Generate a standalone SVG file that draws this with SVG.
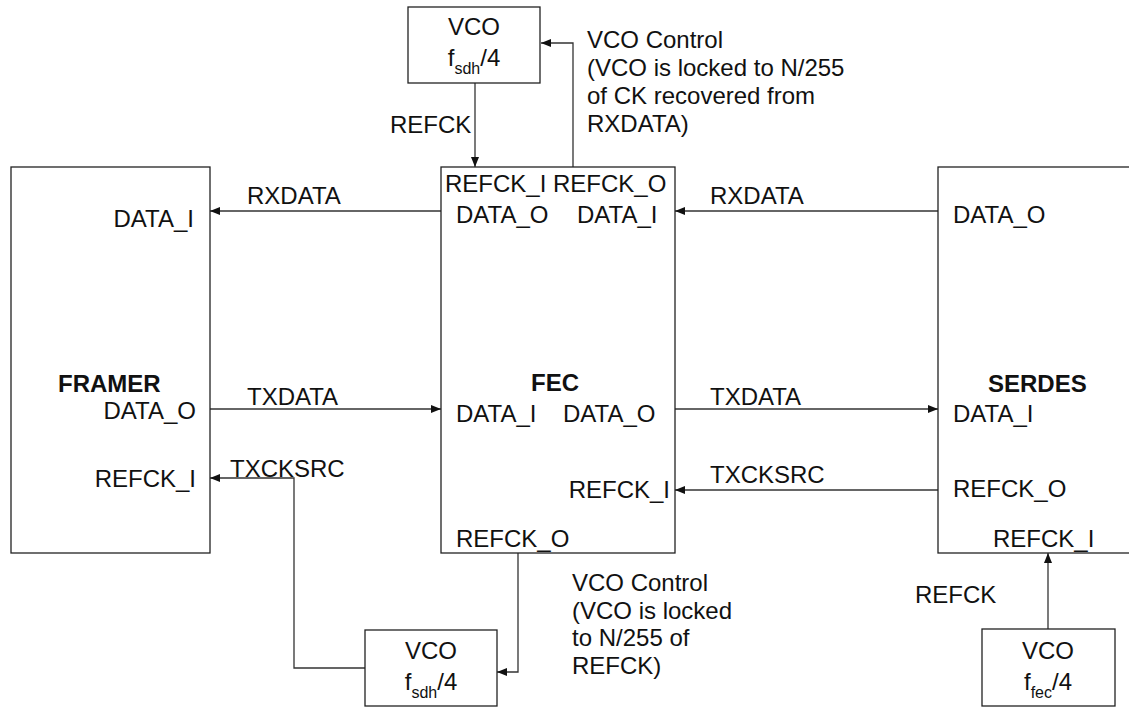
<svg xmlns="http://www.w3.org/2000/svg" width="1129" height="708" viewBox="0 0 1129 708">
<defs>
<style>
text{font-family:"Liberation Sans",Arial,sans-serif;font-size:24px;fill:#111}
.b{font-weight:bold}
.m{text-anchor:middle}
.e{text-anchor:end}
.sub{font-size:16px}
.box{fill:#fff;stroke:#222;stroke-width:1.3}
.c{fill:none;stroke:#333;stroke-width:1.3}
</style>
<marker id="ah" viewBox="0 0 10 8" refX="10" refY="4" markerWidth="10" markerHeight="8" markerUnits="userSpaceOnUse" orient="auto">
<path d="M0,0 L10,4 L0,8 z" fill="#111"/>
</marker>
</defs>
<rect width="1129" height="708" fill="#fff"/>
<g id="connectors">
<path class="c" d="M475,83 V167" marker-end="url(#ah)"/>
<path class="c" d="M573,167 V43 H541" marker-end="url(#ah)"/>
<path class="c" d="M441,211 H210" marker-end="url(#ah)"/>
<path class="c" d="M938,211 H675" marker-end="url(#ah)"/>
<path class="c" d="M210,409 H441" marker-end="url(#ah)"/>
<path class="c" d="M675,409 H938" marker-end="url(#ah)"/>
<path class="c" d="M938,490 H675" marker-end="url(#ah)"/>
<path class="c" d="M518,553 V672 H497" marker-end="url(#ah)"/>
<path class="c" d="M365,668 H294 V478 H210" marker-end="url(#ah)"/>
<path class="c" d="M1048,629 V553" marker-end="url(#ah)"/>
</g>
<g id="labels">
<text x="390" y="133">REFCK</text>
<text x="587" y="48">VCO Control<tspan x="587" dy="28">(VCO is locked to N/255</tspan><tspan x="587" dy="27.5">of CK recovered from</tspan><tspan x="587" dy="28">RXDATA)</tspan></text>
<text x="247" y="204">RXDATA</text>
<text x="710" y="204">RXDATA</text>
<text x="247" y="405">TXDATA</text>
<text x="710" y="405">TXDATA</text>
<text x="230" y="477">TXCKSRC</text>
<text x="710" y="483">TXCKSRC</text>
<text x="572" y="591">VCO Control<tspan x="572" dy="27.5">(VCO is locked</tspan><tspan x="572" dy="27.5">to N/255 of</tspan><tspan x="572" dy="27.5">REFCK)</tspan></text>
<text x="915" y="603">REFCK</text>
</g>
<g id="vco-top">
<rect class="box" x="408" y="7" width="132" height="76"/>
<text class="m" x="474" y="35">VCO</text>
<text class="m" x="474" y="66">f<tspan class="sub" dy="8">sdh</tspan><tspan dy="-8">/4</tspan></text>
</g>
<g id="framer">
<rect class="box" x="11" y="167" width="199" height="386"/>
<text class="e" x="194" y="227">DATA_I</text>
<text class="b" x="58" y="392">FRAMER</text>
<text class="e" x="196" y="419">DATA_O</text>
<text class="e" x="196" y="487">REFCK_I</text>
</g>
<g id="fec">
<rect class="box" x="441" y="167" width="234" height="386"/>
<text x="445" y="192">REFCK_I REFCK_O</text>
<text x="456" y="223">DATA_O</text>
<text x="577" y="223">DATA_I</text>
<text class="b m" x="555" y="391">FEC</text>
<text x="456" y="422">DATA_I</text>
<text x="563" y="422">DATA_O</text>
<text class="e" x="670" y="498">REFCK_I</text>
<text x="456" y="547">REFCK_O</text>
</g>
<g id="serdes">
<rect class="box" x="938" y="167" width="195" height="386"/>
<text x="953" y="223">DATA_O</text>
<text class="b" x="988" y="392">SERDES</text>
<text x="953" y="422">DATA_I</text>
<text x="953" y="497">REFCK_O</text>
<text x="993" y="547">REFCK_I</text>
</g>
<g id="vco-bottom">
<rect class="box" x="365" y="630" width="132" height="76"/>
<text class="m" x="431" y="659">VCO</text>
<text class="m" x="431" y="690">f<tspan class="sub" dy="8">sdh</tspan><tspan dy="-8">/4</tspan></text>
</g>
<g id="vco-fec">
<rect class="box" x="982" y="629" width="133" height="77"/>
<text class="m" x="1048" y="659">VCO</text>
<text class="m" x="1048" y="690">f<tspan class="sub" dy="8">fec</tspan><tspan dy="-8">/4</tspan></text>
</g>
</svg>
